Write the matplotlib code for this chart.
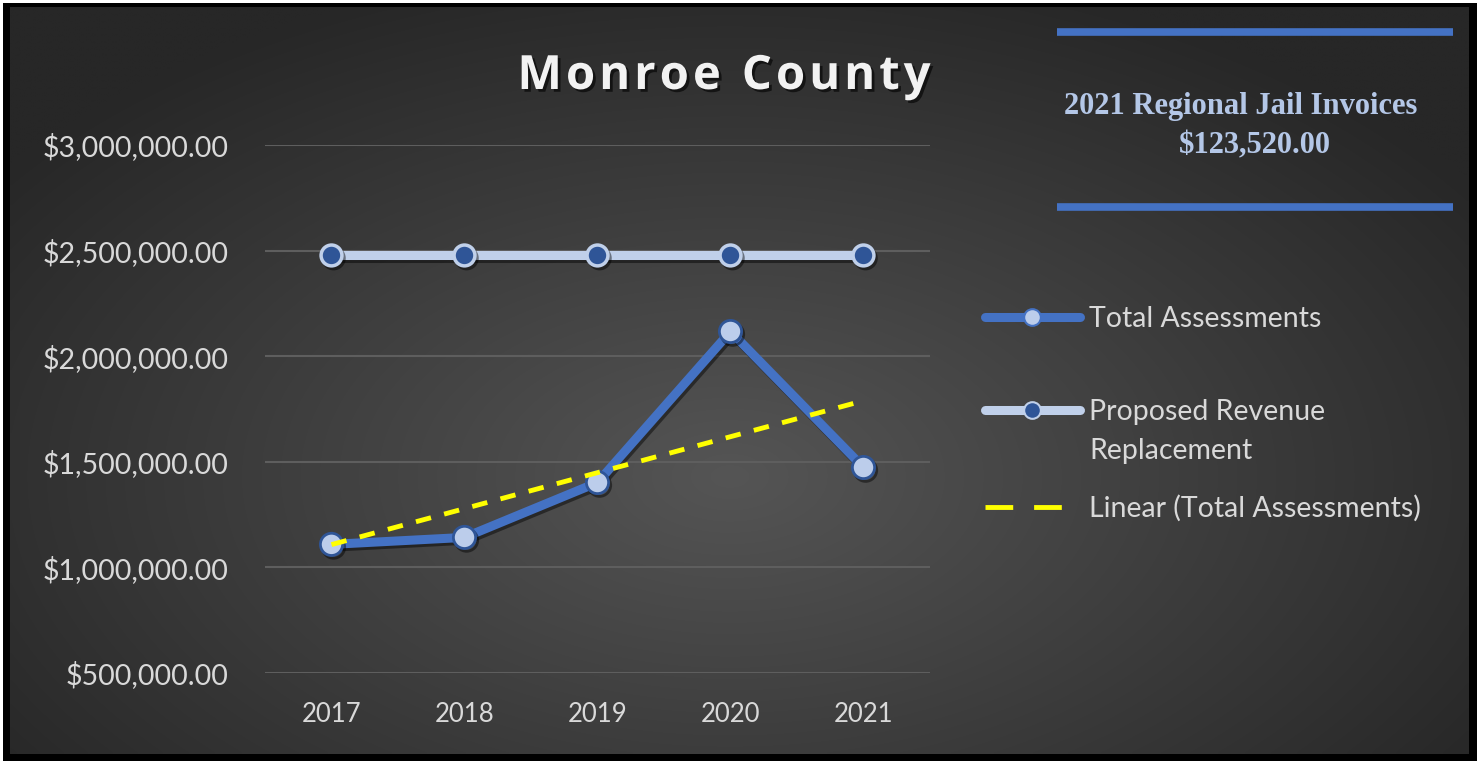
import matplotlib
matplotlib.use("Agg")
import matplotlib.pyplot as plt
import matplotlib.patheffects as pe
from matplotlib.patches import Rectangle
from matplotlib.lines import Line2D
from matplotlib.ticker import FuncFormatter
import numpy as np

years = ["2017", "2018", "2019", "2020", "2021"]
total_assessments = [1109000, 1142000, 1402000, 2117000, 1473000]
revenue_replacement = [2477000, 2477000, 2477000, 2477000, 2477000]
y_ticks = [500000, 1000000, 1500000, 2000000, 2500000, 3000000]
chart_title = "Monroe County"
invoice_title = "2021 Regional Jail Invoices"
invoice_amount = "$123,520.00"

W, H = 1479, 761
fig = plt.figure(figsize=(W / 100, H / 100), dpi=100, facecolor="white")


def fx(px):
    return px / W


def fy(py):
    return 1 - py / H


# black frame
fig.add_artist(Rectangle((3 / W, 0), 1474 / W, 758 / H, transform=fig.transFigure,
                         facecolor="black", edgecolor="none", zorder=0))

# radial grey gradient behind everything
bg = fig.add_axes([10 / W, 7 / H, 1459 / W, 747 / H], zorder=0)
gx, gy = np.meshgrid(np.linspace(0, 1459, 400), np.linspace(0, 747, 220))
d = np.sqrt(((gx - 720) / 900) ** 2 + ((gy - 470) / 520) ** 2)
d = np.clip(d, 0, 1)
inner, outer = np.array([0x55, 0x55, 0x55]) / 255, np.array([0x27, 0x27, 0x27]) / 255
img = inner[None, None, :] * (1 - d[..., None]) + outer[None, None, :] * d[..., None]
bg.imshow(img, aspect="auto", extent=[0, 1, 0, 1], interpolation="bilinear")
bg.set_axis_off()

ax = fig.add_axes([265 / W, 1 - 673 / H, 665 / W, 528 / H], zorder=2)
ax.set_facecolor("none")
x = np.arange(len(years))

for v in y_ticks:
    ax.axhline(v, color="#5e5e5e", lw=1.5, zorder=1)

shadow = [pe.SimpleLineShadow(offset=(1.5, -2), shadow_color="black", alpha=0.45), pe.Normal()]

ax.plot(x, revenue_replacement, color="#c0d0ea", lw=6.5, solid_capstyle="round",
        marker="o", ms=15, mfc="#2f5597", mec="#c0d0ea", mew=2.5, zorder=3,
        path_effects=shadow)
ax.plot(x, total_assessments, color="#4472c4", lw=6.5, solid_capstyle="round",
        marker="o", ms=16, mfc="#bccdeb", mec="#2f5597", mew=2, zorder=4,
        path_effects=shadow)

slope, icpt = np.polyfit(x, total_assessments, 1)
trend = slope * x + icpt
ax.plot(x, trend, color="#ffff00", lw=3.5, ls=(0, (3.2, 2.8)), zorder=5)

ax.set_xlim(-0.5, 4.5)
ax.set_ylim(500000, 3000000)
ax.set_xticks(x)
ax.set_xticklabels(years)
ax.set_yticks(y_ticks)
ax.yaxis.set_major_formatter(FuncFormatter(lambda v, p: "${:,.2f}".format(v)))
for s in ax.spines.values():
    s.set_visible(False)
ax.tick_params(length=0, colors="#d9d9d9")
ax.tick_params(axis="y", pad=26, labelsize=20.5)
ax.tick_params(axis="x", pad=21, labelsize=18.5)
for t in ax.get_xticklabels() + ax.get_yticklabels():
    t.set_fontfamily("Lato")

# title, drawn letter by letter to get the wide tracking
renderer = fig.canvas.get_renderer()
title_kw = dict(fontsize=34, fontweight="bold", color="#f2f2f2", family="Open Sans",
                va="baseline", ha="left",
                path_effects=[pe.withSimplePatchShadow(offset=(2, -2), shadow_rgbFace="black",
                                                       alpha=0.6)])
gap = 4.0
chars = []
cursor = 0.0
for ch in chart_title:
    t = fig.text(0, fy(89), ch, **title_kw)
    w = t.get_window_extent(renderer).width
    if ch == " ":
        w = 13
    chars.append((t, cursor))
    cursor += w + gap
total_w = cursor - gap
start = 724 - total_w / 2
for t, off in chars:
    t.set_x(fx(start + off))

# legend on the right
lx0, lx1, lmid = 985, 1080, 1032
legend_font = dict(family="Lato", fontsize=20.5, color="#d9d9d9", va="baseline", ha="left")

fig.add_artist(Line2D([fx(lx0), fx(lx1)], [fy(317)] * 2, color="#4472c4", lw=6.5,
                      solid_capstyle="round", transform=fig.transFigure))
fig.add_artist(Line2D([fx(lmid)], [fy(317)], marker="o", ms=12, mfc="#bccdeb", mec="#4472c4",
                      mew=1.5, transform=fig.transFigure))
fig.text(fx(1089), fy(327), "Total Assessments", **legend_font)

fig.add_artist(Line2D([fx(lx0), fx(lx1)], [fy(410)] * 2, color="#c0d0ea", lw=6.5,
                      solid_capstyle="round", transform=fig.transFigure))
fig.add_artist(Line2D([fx(lmid)], [fy(410)], marker="o", ms=12, mfc="#2f5597", mec="#c0d0ea",
                      mew=1.5, transform=fig.transFigure))
fig.text(fx(1089), fy(420), "Proposed Revenue", **legend_font)
fig.text(fx(1089), fy(459), "Replacement", **legend_font)

fig.add_artist(Line2D([fx(lx0), fx(lx1)], [fy(507)] * 2, color="#ffff00", lw=3.5,
                      ls=(0, (5.7, 4.3)), transform=fig.transFigure))
fig.text(fx(1089), fy(517), "Linear (Total Assessments)", **legend_font)

# invoice note box
for yy in (32, 207):
    fig.add_artist(Line2D([fx(1057), fx(1453)], [fy(yy)] * 2, color="#4472c4", lw=5.5,
                          solid_capstyle="butt", transform=fig.transFigure))
fig.text(fx(1241), fy(114), invoice_title, ha="center", va="baseline", fontsize=22,
         fontweight="bold", color="#b4c7e7", family="Liberation Serif")
fig.text(fx(1255), fy(153), invoice_amount, ha="center", va="baseline", fontsize=22,
         fontweight="bold", color="#b4c7e7", family="Liberation Serif")

fig.savefig("out.png", dpi=100, facecolor="white")
